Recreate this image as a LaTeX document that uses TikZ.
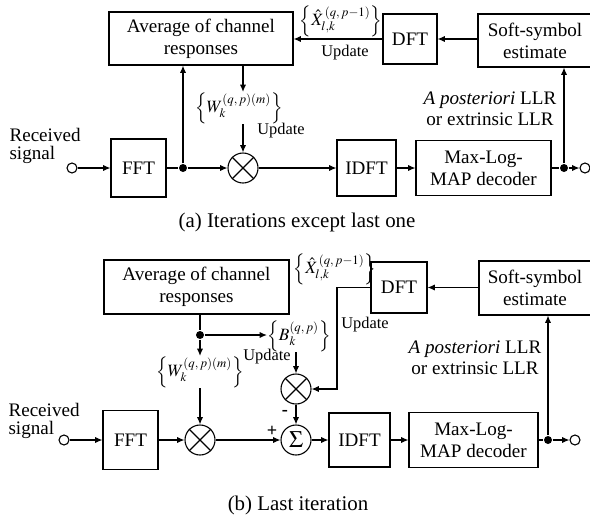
\documentclass[tikz,border=0pt]{standalone}
\usepackage{mathptmx}
\usepackage{fontspec}
\setmainfont{Liberation Serif}
\usetikzlibrary{arrows.meta}

\begin{document}
\begin{tikzpicture}[x=0.55pt, y=-0.55pt, line width=0.6pt,
    >={Latex[length=4pt,width=3.4pt]},
    blk/.style={draw, inner sep=0pt, align=center, font=\fontsize{10.5}{12}\selectfont},
    mult/.style={draw, circle, minimum size=16.5pt, inner sep=0pt},
    dot/.style={fill, circle, minimum size=4.4pt, inner sep=0pt},
    port/.style={draw, circle, minimum size=5.5pt, inner sep=0pt},
    lab/.style={inner sep=0pt, align=center, font=\fontsize{10.5}{11.6}\selectfont},
    mlab/.style={inner sep=0pt, font=\fontsize{9.5}{11}\selectfont},
    upd/.style={inner sep=0pt, font=\fontsize{9}{10}\selectfont},
    captxt/.style={inner sep=0pt, font=\fontsize{11.5}{13}\selectfont}]
    \useasboundingbox (0,0) rectangle (590,517);
    \clip (0,0) rectangle (590,517);

    \node[blk, minimum width=101.2pt, minimum height=29.15pt] (avgA) at (201,38.5) {Average of channel\\responses};
    \node[blk, minimum width=29.7pt, minimum height=27.5pt] (dftA) at (410,39) {DFT};
    \node[blk, minimum width=62.7pt, minimum height=29.15pt] (softA) at (535,40.5) {Soft-symbol\\estimate};
    \node[blk, minimum width=30.25pt, minimum height=31.9pt] (fftA) at (138.5,168) {FFT};
    \node[blk, minimum width=32.45pt, minimum height=30.8pt] (idftA) at (366.5,168) {IDFT};
    \node[blk, minimum width=74.25pt, minimum height=30.25pt] (maxA) at (483.5,168) {Max-Log-\\MAP decoder};
    \node[mult] (multA) at (243,168) {};
    \node[port] (inA) at (72,168) {};
    \node[dot] (dotA1) at (183,168) {};
    \node[dot] (dotA2) at (564,168) {};
    \node[port] (outA) at (585,168) {};
    \node[lab, anchor=west, align=left, font=\fontsize{10.5}{9.5}\selectfont] (rxA) at (9,146) {Received\\signal};
    \node[mlab] (WlabA) at (239,108) {$\Bigl\{W_k^{(q,\,p)(m)}\Bigr\}$};
    \node[upd] (updWA) at (281,131) {Update};
    \node[mlab] (XlabA) at (341,21) {$\Bigl\{\hat{X}_{l,k}^{\,(q,\,p-1)}\Bigr\}$};
    \node[upd] (updXA) at (345,53) {Update};
    \node[lab] (llrA) at (490,109) {\textit{A posteriori} LLR\\or extrinsic LLR};
    \node[captxt] (capA) at (297,222) {(a) Iterations except last one};

    \draw[->] (inA) -- (fftA);
    \draw (fftA) -- (dotA1);
    \draw[->] (dotA1) -- (multA);
    \draw[->] (dotA1) -- (dotA1 |- avgA.south);
    \draw[->] (avgA.south -| multA) -- (multA |- WlabA.north);
    \draw[->] (multA |- WlabA.south) -- (multA);
    \draw[->] (multA) -- (idftA);
    \draw[->] (idftA) -- (maxA);
    \draw (maxA) -- (dotA2);
    \draw[->] (dotA2) -- (outA);
    \draw[->] (dotA2) -- (dotA2 |- softA.south);
    \draw[->] (softA.west |- dftA) -- (dftA);
    \draw[->] (dftA) -- (dftA -| avgA.east);

    \node[blk, minimum width=101.75pt, minimum height=29.7pt] (avgB) at (196.5,287) {Average of channel\\responses};
    \node[blk, minimum width=30.8pt, minimum height=28.05pt] (dftB) at (399,287.5) {DFT};
    \node[blk, minimum width=61.6pt, minimum height=29.7pt] (softB) at (535,288) {Soft-symbol\\estimate};
    \node[blk, minimum width=30.25pt, minimum height=32.45pt] (fftB) at (130.5,440) {FFT};
    \node[blk, minimum width=33.55pt, minimum height=29.7pt] (idftB) at (359.5,440) {IDFT};
    \node[blk, minimum width=70.95pt, minimum height=30.25pt] (maxB) at (473.5,440) {Max-Log-\\MAP decoder};
    \node[mult] (multB1) at (200,440) {};
    \node[mult] (multB2) at (296,389) {};
    \node[mult, font=\fontsize{13}{13}\selectfont] (sigma) at (296,440) {$\Sigma$};
    \node[port] (inB) at (64,440) {};
    \node[dot] (dotB1) at (200,335) {};
    \node[dot] (dotB2) at (548,440) {};
    \node[port] (outB) at (575,440) {};
    \node[lab, anchor=west, align=left, font=\fontsize{10.5}{9.5}\selectfont] (rxB) at (8,421) {Received\\signal};
    \node[mlab] (WlabB) at (200,372) {$\Bigl\{W_k^{(q,\,p)(m)}\Bigr\}$};
    \node[mlab] (BlabB) at (299,336) {$\Bigl\{B_k^{(q,\,p)}\Bigr\}$};
    \node[upd] (updBB) at (267,357) {Update};
    \node[mlab] (XlabB) at (335,269) {$\Bigl\{\hat{X}_{l,k}^{\,(q,\,p-1)}\Bigr\}$};
    \node[upd] (updXB) at (365,325) {Update};
    \node[lab] (llrB) at (475,358) {\textit{A posteriori} LLR\\or extrinsic LLR};
    \node[inner sep=0pt, font=\bfseries] (plus) at (272,431) {+};
    \node[inner sep=0pt, font=\bfseries] (minus) at (285,413) {-};
    \node[captxt] (capB) at (298,505) {(b) Last iteration};
    \coordinate (bendB) at (337,287.5);

    \foreach \m in {multA,multB1,multB2}
        \draw (\m.45) -- (\m.225) (\m.135) -- (\m.315);

    \draw[->] (inB) -- (fftB);
    \draw[->] (fftB) -- (multB1);
    \draw[->] (multB1) -- (sigma);
    \draw[->] (sigma) -- (idftB);
    \draw[->] (idftB) -- (maxB);
    \draw (maxB) -- (dotB2);
    \draw[->] (dotB2) -- (outB);
    \draw[->] (dotB2) -- (dotB2 |- softB.south);
    \draw[->] (softB.west |- dftB) -- (dftB);
    \draw[->] (dftB) -- (bendB) |- (multB2);
    \draw (avgB.south -| dotB1) -- (dotB1);
    \draw[->] (dotB1) -- (WlabB);
    \draw[->] (dotB1) -- (BlabB.west |- dotB1);
    \draw[->] (multB2 |- BlabB.south) -- (multB2);
    \draw[->] (WlabB.south -| multB1) -- (multB1);
    \draw[->] (multB2) -- (sigma);
\end{tikzpicture}
\end{document}
